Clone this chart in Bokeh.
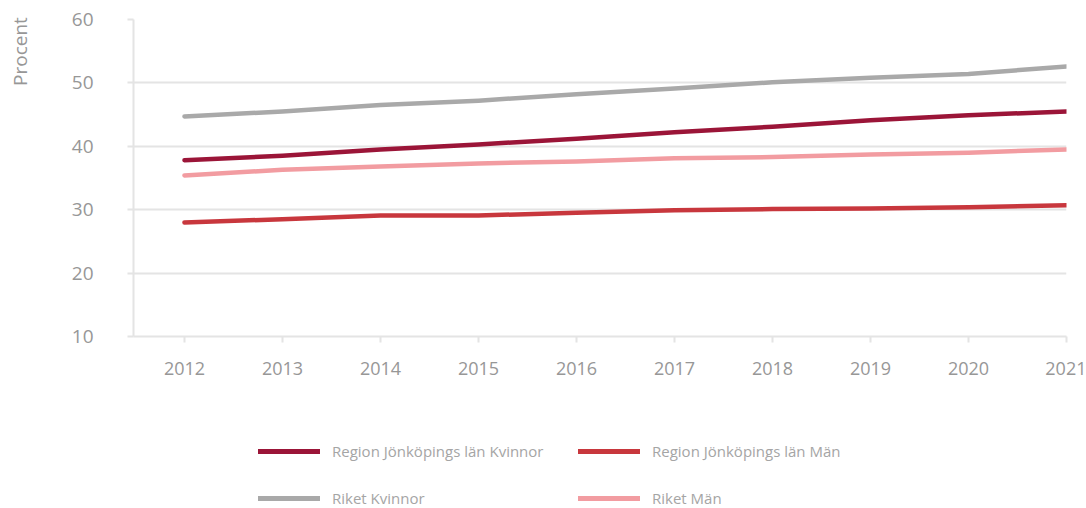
from bokeh.plotting import figure
from bokeh.models import Legend, LegendItem, FixedTicker, Range1d
from bokeh.layouts import column
from bokeh.embed import file_html
from bokeh.resources import INLINE

years = [2012, 2013, 2014, 2015, 2016, 2017, 2018, 2019, 2020, 2021]
region_kvinnor = [37.8, 38.5, 39.5, 40.3, 41.2, 42.2, 43.1, 44.1, 44.9, 45.5]
region_man = [28.0, 28.5, 29.1, 29.1, 29.5, 29.9, 30.1, 30.2, 30.4, 30.7]
riket_kvinnor = [44.7, 45.5, 46.5, 47.2, 48.2, 49.1, 50.1, 50.8, 51.4, 52.6]
riket_man = [35.4, 36.3, 36.8, 37.3, 37.6, 38.1, 38.3, 38.7, 39.0, 39.5]
y_ticks = [10, 20, 30, 40, 50, 60]

FONT = "Open Sans"
GREY_TXT = "#979797"
GRID = "#e4e4e4"

p = figure(width=1086, height=400, output_backend="svg", toolbar_location=None,
           x_range=Range1d(2011.48, 2021), y_range=Range1d(10, 60),
           min_border_left=133, min_border_right=20, min_border_top=19,
           min_border_bottom=64)
p.outline_line_color = None
p.xgrid.grid_line_color = None
p.ygrid.grid_line_color = GRID
p.ygrid.grid_line_width = 2
p.ygrid.ticker = FixedTicker(ticks=y_ticks)

p.yaxis.ticker = FixedTicker(ticks=y_ticks)
p.xaxis.ticker = FixedTicker(ticks=years)
for ax in (p.xaxis, p.yaxis):
    ax.axis_line_color = GRID
    ax.axis_line_width = 2
    ax.major_tick_line_color = GRID
    ax.major_tick_line_width = 2
    ax.major_tick_in = 0
    ax.major_tick_out = 6
    ax.minor_tick_line_color = None
    ax.major_label_text_font = FONT
    ax.major_label_text_color = GREY_TXT
p.yaxis.major_label_text_font_size = "19px"
p.xaxis.major_label_text_font_size = "18px"
p.yaxis.major_label_standoff = 34
p.xaxis.major_label_standoff = 19

# axis title sits at the top end of the y axis; trailing no-break spaces
# push the visible word down so that it starts just below the top
yax = p.yaxis[0]
yax.axis_label = "Procent" + "\u00a0" * 13
yax.axis_label_text_font = FONT
yax.axis_label_text_font_size = "19px"
yax.axis_label_text_font_style = "normal"
yax.axis_label_text_color = GREY_TXT
yax.axis_label_standoff = 36
try:
    yax.axis_label_align = "end"
except Exception:
    pass

colors = ["#9b1538", "#c8373d", "#a9a9a9", "#f29ca1"]
names = ["Region Jönköpings län Kvinnor", "Region Jönköpings län Män",
         "Riket Kvinnor", "Riket Män"]
series = [region_kvinnor, region_man, riket_kvinnor, riket_man]
for ys, c in zip(series, colors):
    p.line(years, ys, line_color=c, line_width=4.5, line_cap="round",
           line_join="round")

# legend strip below the chart (its frame is aligned with the chart's frame)
lp = figure(width=1086, height=108, output_backend="svg", toolbar_location=None,
            x_range=Range1d(0, 1), y_range=Range1d(0, 1),
            x_axis_type=None, y_axis_type=None,
            min_border_left=133, min_border_right=20, min_border_top=0,
            min_border_bottom=0)
lp.outline_line_color = None
lp.xgrid.grid_line_color = None
lp.ygrid.grid_line_color = None
swatches = []
for ys, c in zip(series, colors):
    # same series, outside this strip's visible range: only the legend swatch shows
    swatches.append(lp.line(years, ys, line_color=c, line_width=5,
                            line_cap="round"))

def make_legend(items, vy):
    return Legend(items=items, orientation="horizontal", location=(125, vy),
                  glyph_width=62, glyph_height=20, label_width=246,
                  label_height=20, label_standoff=12, spacing=0, padding=0,
                  margin=0, border_line_color=None, background_fill_alpha=0,
                  label_text_font=FONT, label_text_color="#a5a5a5",
                  label_text_font_size="15px")

lg1 = make_legend([LegendItem(label=names[0], renderers=[swatches[0]]),
                   LegendItem(label=names[1], renderers=[swatches[1]])], 47)
lg2 = make_legend([LegendItem(label=names[2], renderers=[swatches[2]]),
                   LegendItem(label=names[3], renderers=[swatches[3]])], 0)
lp.add_layout(lg1, "center")
lp.add_layout(lg2, "center")

layout = column(p, lp, spacing=0)
open("out.html", "w").write(file_html(layout, INLINE))
